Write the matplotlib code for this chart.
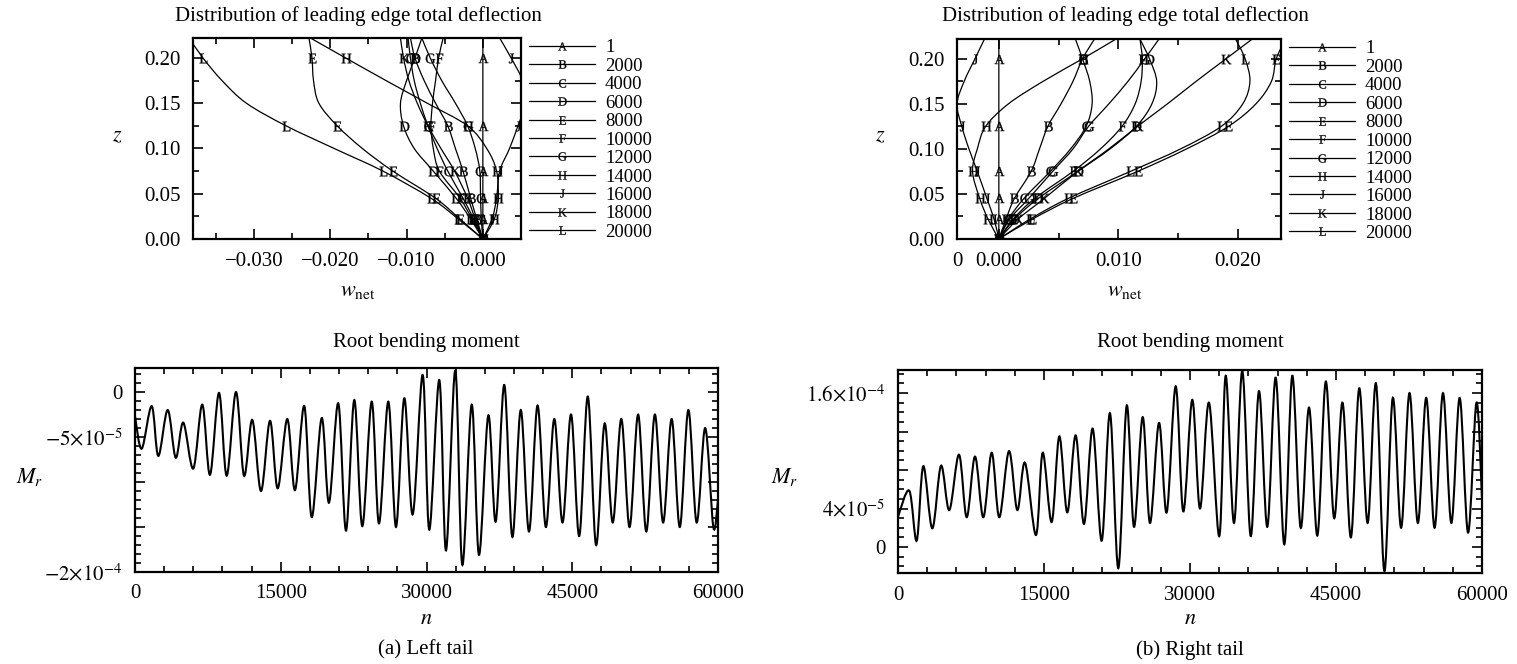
import numpy as np
import matplotlib
matplotlib.use("Agg")
import matplotlib.pyplot as plt
from matplotlib.path import Path
from matplotlib.patches import PathPatch
from matplotlib.lines import Line2D
from matplotlib.ticker import MultipleLocator, FixedLocator, FixedFormatter

plt.rcParams['font.family'] = ['Liberation Serif', 'DejaVu Serif']
plt.rcParams['mathtext.fontset'] = 'stix'

# span stations and the time steps shown as lettered curves
z = [0.0, 0.022, 0.045, 0.075, 0.1, 0.125, 0.15, 0.175, 0.2, 0.222]
mark_idx = [0, 1, 2, 3, 5, 8]
letters = ["A", "B", "C", "D", "E", "F", "G", "H", "J", "K", "L"]
steps = ["1", "2000", "4000", "6000", "8000", "10000", "12000",
         "14000", "16000", "18000", "20000"]

# leading edge deflection w_net at each station, left tail (rows A..L)
left_defl = [
    [0, 0, 0, 0, 0, 0, 0, 0, 0, 0],
    [0, -0.0008, -0.0016, -0.0026, -0.0036, -0.0046, -0.0062, -0.0077, -0.0089, -0.0095],
    [0, -0.0012, -0.0026, -0.0046, -0.0060, -0.0072, -0.0082, -0.0090, -0.0095, -0.0098],
    [0, -0.0016, -0.0035, -0.0065, -0.0090, -0.0104, -0.0108, -0.0100, -0.0089, -0.0080],
    [0, -0.0030, -0.0062, -0.0118, -0.0158, -0.0191, -0.0215, -0.0222, -0.0224, -0.0228],
    [0, -0.0014, -0.0030, -0.0057, -0.0065, -0.0068, -0.0066, -0.0062, -0.0058, -0.0052],
    [0, -0.0002, -0.0003, -0.0004, -0.0010, -0.0020, -0.0036, -0.0054, -0.0069, -0.0080],
    [0, 0.0015, 0.0020, 0.0018, 0.0005, -0.0020, -0.0073, -0.0127, -0.0180, -0.0226],
    [0, 0.0012, 0.0018, 0.0022, 0.0035, 0.0046, 0.0056, 0.0052, 0.0037, 0.0022],
    [0, -0.0010, -0.0020, -0.0037, -0.0055, -0.0072, -0.0086, -0.0097, -0.0104, -0.0108],
    [0, -0.0032, -0.0068, -0.0131, -0.0195, -0.0258, -0.0310, -0.0342, -0.0367, -0.0385],
]

# same for the right tail
right_defl = [
    [0, 0, 0, 0, 0, 0, 0, 0, 0, 0],
    [0, 0.0006, 0.0013, 0.0027, 0.0034, 0.0041, 0.0052, 0.0062, 0.0070, 0.0080],
    [0, 0.0008, 0.0021, 0.0043, 0.0060, 0.0073, 0.0078, 0.0076, 0.0070, 0.0064],
    [0, 0.0013, 0.0033, 0.0066, 0.0093, 0.0115, 0.0128, 0.0132, 0.0126, 0.0118],
    [0, 0.0028, 0.0062, 0.0116, 0.0157, 0.0192, 0.0215, 0.0228, 0.0232, 0.0240],
    [0, 0.0012, 0.0030, 0.0062, 0.0085, 0.0103, 0.0114, 0.0119, 0.0120, 0.0118],
    [0, 0.0009, 0.0025, 0.0045, 0.0062, 0.0075, 0.0092, 0.0108, 0.0122, 0.0134],
    [0, -0.0009, -0.0016, -0.0022, -0.0018, -0.0011, 0.0008, 0.0037, 0.0070, 0.0098],
    [0, -0.0004, -0.0010, -0.0018, -0.0025, -0.0031, -0.0035, -0.0029, -0.0020, -0.0012],
    [0, 0.0016, 0.0038, 0.0066, 0.0092, 0.0116, 0.0141, 0.0165, 0.0190, 0.0212],
    [0, 0.0026, 0.0058, 0.0110, 0.0152, 0.0186, 0.0204, 0.0210, 0.0206, 0.0198],
]

# root bending moment, successive peaks and troughs against step n
left_n = [0, 690, 1719, 2398, 3365, 4189, 4971, 6000, 6926, 7719, 8645, 9437,
          10395, 11218, 12072, 12967, 13894, 14686, 15674, 16467, 17424, 18186,
          19215, 19966, 20923, 21716, 22570, 23393, 24360, 25111, 26068, 26861,
          27715, 28580, 29609, 30288, 31317, 32007, 32964, 33684, 34652, 35403,
          36360, 37122, 38007, 38830, 39700, 40550, 41430, 42280, 43150, 44000,
          44880, 45720, 46600, 47450, 48330, 49170, 50050, 50900, 51780, 52620,
          53500, 54350, 55230, 56070, 56950, 57800, 58680, 59520, 60000]
left_m = [-2.7e-5, -6.3e-5, -1.56e-5, -7.1e-5, -2.0e-5, -7.3e-5, -3.4e-5, -8.5e-5,
          -1.4e-5, -9.2e-5, -1e-6, -9.3e-5, 0.0, -9.3e-5, -3.1e-5, -1.10e-4,
          -3.2e-5, -1.07e-4, -3.0e-5, -1.09e-4, -1.56e-5, -1.39e-4, -2.9e-5, -1.23e-4,
          -1.26e-5, -1.54e-4, -8.9e-6, -1.49e-4, -1.07e-5, -1.46e-4, -1.07e-5, -1.50e-4,
          -7e-6, -1.36e-4, 1.9e-5, -1.53e-4, 1.33e-5, -1.76e-4, 2.4e-5, -1.92e-4,
          -1.4e-5, -1.81e-4, -2.6e-5, -1.44e-4, 7.8e-6, -1.61e-4, -2.0e-5, -1.55e-4,
          -1.5e-5, -1.50e-4, -3.0e-5, -1.45e-4, -2.5e-5, -1.60e-4, -5e-6, -1.70e-4,
          -3.5e-5, -1.45e-4, -3.0e-5, -1.50e-4, -2.5e-5, -1.55e-4, -2.5e-5, -1.45e-4,
          -3.0e-5, -1.50e-4, -2.0e-5, -1.45e-4, -4.0e-5, -1.50e-4, -1.2e-4]

right_n = [0, 1161, 1921, 2599, 3524, 4418, 5271, 6267, 7058, 7911, 8764, 9627,
           10408, 11404, 12257, 13048, 14178, 14866, 15791, 16572, 17394, 18257,
           19110, 20003, 20928, 21781, 22634, 23497, 24247, 25140, 25890, 26815,
           27606, 28531, 29312, 30236, 31027, 31952, 33010, 33668, 34521, 35373,
           36236, 37089, 37942, 38805, 39688, 40510, 41370, 42230, 43090, 43950,
           44810, 45670, 46530, 47390, 48250, 49110, 49970, 50830, 51690, 52550,
           53410, 54270, 55130, 55990, 56850, 57710, 58570, 59430, 60000]
right_m = [3.15e-5, 5.85e-5, 6.6e-6, 8.4e-5, 1.94e-5, 8.45e-5, 3.84e-5, 9.6e-5,
           3.1e-5, 9.4e-5, 3.1e-5, 9.8e-5, 3.1e-5, 9.97e-5, 3.84e-5, 8.76e-5,
           1.25e-5, 9.8e-5, 2.6e-5, 1.15e-4, 3.6e-5, 1.16e-4, 2.4e-5, 1.23e-4,
           6.6e-6, 1.39e-4, -2.2e-5, 1.47e-4, 2.1e-5, 1.35e-4, 2.5e-5, 1.29e-4,
           3.6e-5, 1.67e-4, 3.7e-5, 1.53e-4, 4.0e-5, 1.50e-4, 1.14e-5, 1.78e-4,
           2.5e-5, 1.83e-4, 1.14e-5, 1.62e-4, 2.1e-5, 1.76e-4, 2.8e-6, 1.78e-4,
           2.0e-5, 1.45e-4, 1.2e-5, 1.72e-4, 3.0e-5, 1.50e-4, 1.0e-5, 1.65e-4,
           2.5e-5, 1.70e-4, -2.5e-5, 1.55e-4, 2.0e-5, 1.60e-4, 2.5e-5, 1.55e-4,
           2.0e-5, 1.60e-4, 2.5e-5, 1.55e-4, 1.5e-5, 1.50e-4, 5e-5]


def smooth_path(x, y):
    # Catmull-Rom through the points, handed to the renderer as cubic Beziers
    x = np.asarray(x, float)
    y = np.asarray(y, float)
    verts = [(x[0], y[0])]
    codes = [Path.MOVETO]
    last = len(x) - 1
    for i in range(last):
        a, b = max(i - 1, 0), min(i + 2, last)
        verts.append((x[i] + (x[i + 1] - x[a]) / 6, y[i] + (y[i + 1] - y[a]) / 6))
        verts.append((x[i + 1] - (x[b] - x[i]) / 6, y[i + 1] - (y[b] - y[i]) / 6))
        verts.append((x[i + 1], y[i + 1]))
        codes += [Path.CURVE4] * 3
    return Path(verts, codes)


def framed(ax):
    ax.tick_params(which='both', direction='in', top=True, right=True,
                   width=1.2, labelsize=15, pad=9)
    ax.tick_params(which='major', length=7)
    ax.tick_params(which='minor', length=4)
    for s in ax.spines.values():
        s.set_linewidth(1.6)


W, H = 1517, 664
fig = plt.figure(figsize=(W / 100, H / 100), dpi=100)


def box(l, t, r, b):
    return [l / W, 1 - b / H, (r - l) / W, (b - t) / H]


def ftext(x, y, s, **kw):
    fig.text(x / W, 1 - y / H, s, ha='center', va='center', **kw)


def letter(c):
    return r'$\mathregular{%s}$' % c


def deflection(ax, rows):
    for row, c in zip(rows, letters):
        ax.add_patch(PathPatch(smooth_path(row, z), fill=False, lw=0.9, ec='black'))
        ax.plot([row[i] for i in mark_idx], [z[i] for i in mark_idx],
                ls='none', marker=letter(c), ms=7, mew=0.2, color='black')
    ax.set_ylim(0, 0.222)
    ax.yaxis.set_major_locator(MultipleLocator(0.05))
    ax.yaxis.set_minor_locator(MultipleLocator(0.025))
    ax.yaxis.set_major_formatter(lambda v, p: f"{v:.2f}")
    ax.xaxis.set_minor_locator(MultipleLocator(0.005))
    framed(ax)
    handles = [Line2D([], [], color='black', lw=0.9, marker=letter(c), ms=6, mew=0.2)
               for c in letters]
    ax.legend(handles, steps, loc='upper left', bbox_to_anchor=(1.0, 1.032),
              frameon=False, fontsize=13.5, handlelength=3.55, handletextpad=0.53,
              labelspacing=0.072, borderaxespad=0.0, borderpad=0.4)


# top left: left tail deflection
ax1 = fig.add_axes(box(193, 38, 521, 239))
deflection(ax1, left_defl)
ax1.set_xlim(-0.038, 0.005)
ax1.xaxis.set_major_locator(FixedLocator([-0.03, -0.02, -0.01, 0.0]))
ax1.xaxis.set_major_formatter(FixedFormatter(["\u22120.030", "\u22120.020", "\u22120.010", "0.000"]))

# top right: right tail deflection
ax2 = fig.add_axes(box(957, 39, 1281, 239))
deflection(ax2, right_defl)
ax2.set_xlim(-0.0035, 0.0236)
ax2.xaxis.set_major_locator(FixedLocator([-0.0035, 0.0, 0.01, 0.02]))
ax2.xaxis.set_major_formatter(FixedFormatter(["0", "0.000", "0.010", "0.020"]))


def moment(ax, n, m):
    ax.add_patch(PathPatch(smooth_path(n, m), fill=False, lw=1.5, ec='black'))
    ax.set_xlim(0, 60000)
    ax.xaxis.set_major_locator(MultipleLocator(15000))
    ax.xaxis.set_minor_locator(MultipleLocator(3000))
    framed(ax)


# bottom left: left tail root moment
ax3 = fig.add_axes(box(135, 368, 718, 572))
moment(ax3, left_n, left_m)
ax3.set_ylim(-2e-4, 2.67e-5)
ax3.yaxis.set_major_locator(FixedLocator([-2e-4, -1.5e-4, -1e-4, -5e-5, 0]))
ax3.yaxis.set_major_formatter(FixedFormatter(
    [r"$-2{\times}10^{-4}$", "", "", r"$-5{\times}10^{-5}$", "0"]))
ax3.yaxis.set_minor_locator(MultipleLocator(1e-5))

# bottom right: right tail root moment
ax4 = fig.add_axes(box(898, 370, 1482, 573))
moment(ax4, right_n, right_m)
ax4.set_ylim(-2.7e-5, 1.84e-4)
ax4.yaxis.set_major_locator(FixedLocator([0, 4e-5, 8e-5, 1.2e-4, 1.6e-4]))
ax4.yaxis.set_major_formatter(FixedFormatter(
    ["0", r"$4{\times}10^{-5}$", "", "", r"$1.6{\times}10^{-4}$"]))
ax4.yaxis.set_minor_locator(MultipleLocator(1e-5))

# titles, axis names and captions
ftext(358, 16, "Distribution of leading edge total deflection", fontsize=15)
ftext(1125, 16, "Distribution of leading edge total deflection", fontsize=15)
ftext(117, 137, r"$z$", fontsize=16)
ftext(880, 137, r"$z$", fontsize=16)
ftext(358, 292, r"$w_{\rm net}$", fontsize=16)
ftext(1125, 292, r"$w_{\rm net}$", fontsize=16)
ftext(426, 343, "Root bending moment", fontsize=15)
ftext(1190, 343, "Root bending moment", fontsize=15)
ftext(30, 477, r"$M_r$", fontsize=16)
ftext(785, 477, r"$M_r$", fontsize=16)
ftext(426, 620, r"$n$", fontsize=16)
ftext(1190, 620, r"$n$", fontsize=16)
ftext(426, 650, "(a) Left tail", fontsize=15)
ftext(1190, 650, "(b) Right tail", fontsize=15)

fig.savefig("out.png", dpi=100)
